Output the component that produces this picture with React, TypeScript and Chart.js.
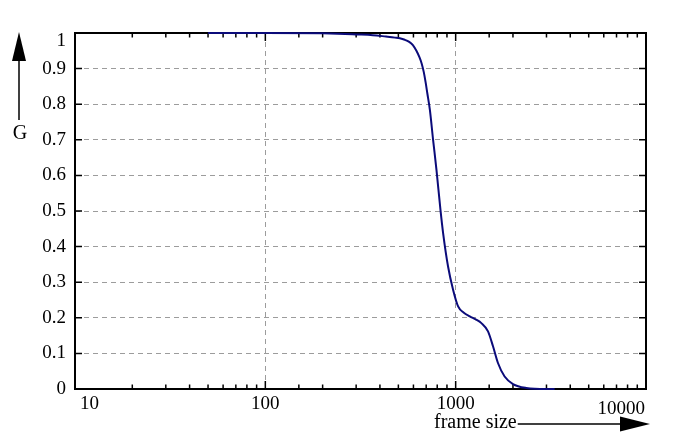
import { useEffect, useRef } from "react";
import { Chart, registerables } from "chart.js";

Chart.register(...registerables);

// frame size (log x) against G
const frameSizes = [
  50, 100, 200, 240, 300, 367, 430, 480, 509, 540, 570, 596, 622, 645, 662,
  680, 695, 710, 732, 761, 793, 832, 859, 912, 969, 1030, 1100, 1186, 1280,
  1365, 1479, 1571, 1668, 1808, 2000, 2350, 2991, 3311,
];
const gValues = [
  1, 1, 0.999, 0.998, 0.996, 0.994, 0.99, 0.987, 0.985, 0.981, 0.975, 0.966,
  0.95, 0.932, 0.915, 0.89, 0.862, 0.83, 0.784, 0.7, 0.615, 0.503, 0.438,
  0.344, 0.279, 0.232, 0.215, 0.204, 0.195, 0.185, 0.162, 0.12, 0.073, 0.035,
  0.014, 0.003, 0, 0,
];
const xTickValues = [10, 100, 1000, 10000];
const xTickLabels = ["10", "100", "1000", "10000"];
const yLabel = "G";
const xLabel = "frame size";

const FONT = "'Liberation Serif', 'DejaVu Serif', serif";
const FONT_SIZE = 19;

const isDecade = (v: number) => {
  const e = Math.round(Math.log10(v));
  return Math.abs(v - Math.pow(10, e)) < 1e-6;
};

const framePlugin = {
  id: "frame",
  beforeDatasetsDraw(chart: any) {
    const { ctx, chartArea: a, scales } = chart;
    const x = scales.x;
    const y = scales.y;
    ctx.save();
    ctx.strokeStyle = "#000";
    ctx.lineWidth = 1.5;
    // inward ticks
    x.ticks.forEach((t: any) => {
      const px = x.getPixelForValue(t.value);
      if (px <= a.left + 1 || px >= a.right - 1) return;
      const len = isDecade(t.value) ? 8 : 4.5;
      ctx.beginPath();
      ctx.moveTo(px, a.bottom);
      ctx.lineTo(px, a.bottom - len);
      ctx.moveTo(px, a.top);
      ctx.lineTo(px, a.top + len);
      ctx.stroke();
    });
    y.ticks.forEach((t: any) => {
      const py = y.getPixelForValue(t.value);
      if (py <= a.top + 1 || py >= a.bottom - 1) return;
      ctx.beginPath();
      ctx.moveTo(a.left, py);
      ctx.lineTo(a.left + 7, py);
      ctx.moveTo(a.right, py);
      ctx.lineTo(a.right - 7, py);
      ctx.stroke();
    });
    ctx.lineWidth = 2;
    ctx.strokeRect(a.left, a.top, a.right - a.left, a.bottom - a.top);
    ctx.restore();
  },
  afterDraw(chart: any) {
    const { ctx, chartArea: a, scales } = chart;
    ctx.save();
    ctx.fillStyle = "#000";
    ctx.strokeStyle = "#000";
    ctx.font = `${FONT_SIZE}px ${FONT}`;

    // top y label sits a little below its value
    ctx.textAlign = "right";
    ctx.textBaseline = "middle";
    ctx.fillText("1", a.left - 9, scales.y.getPixelForValue(1) + 8);

    // x tick labels, first and last kept inside the frame
    ctx.textBaseline = "top";
    xTickValues.forEach((v, i) => {
      const px = scales.x.getPixelForValue(v);
      const last = i === xTickValues.length - 1;
      ctx.textAlign = i === 0 ? "left" : last ? "right" : "center";
      const tx = i === 0 ? px + 5 : last ? px - 1 : px;
      ctx.fillText(xTickLabels[i], tx, a.bottom + (last ? 11 : 6));
    });

    // y arrow and label
    ctx.lineWidth = 1.5;
    const ax = 19;
    ctx.beginPath();
    ctx.moveTo(ax, 120);
    ctx.lineTo(ax, 58);
    ctx.stroke();
    ctx.beginPath();
    ctx.moveTo(ax, a.top - 1);
    ctx.lineTo(ax - 7, 61);
    ctx.lineTo(ax + 7, 61);
    ctx.closePath();
    ctx.fill();
    ctx.font = `20px ${FONT}`;
    ctx.textAlign = "center";
    ctx.textBaseline = "middle";
    ctx.fillText(yLabel, 20, 134);

    // x label and arrow
    ctx.textAlign = "left";
    ctx.textBaseline = "alphabetic";
    ctx.fillText(xLabel, 434, 428);
    const tw = ctx.measureText(xLabel).width;
    const ay = 424;
    ctx.beginPath();
    ctx.moveTo(434 + tw + 1, ay);
    ctx.lineTo(622, ay);
    ctx.stroke();
    ctx.beginPath();
    ctx.moveTo(650, ay);
    ctx.lineTo(620, ay - 7.5);
    ctx.lineTo(620, ay + 7.5);
    ctx.closePath();
    ctx.fill();
    ctx.restore();
  },
};

export default function App() {
  const canvasRef = useRef<HTMLCanvasElement | null>(null);

  useEffect(() => {
    if (!canvasRef.current) return;
    const points = frameSizes.map((f, i) => ({ x: f, y: gValues[i] }));

    const c = new Chart(canvasRef.current, {
      type: "line",
      data: {
        datasets: [
          {
            data: points,
            borderColor: "#0b0b7a",
            borderWidth: 2,
            pointRadius: 0,
            fill: false,
            cubicInterpolationMode: "monotone",
            clip: false,
          } as any,
        ],
      },
      options: {
        animation: false,
        responsive: true,
        maintainAspectRatio: false,
        layout: { padding: { top: 33, right: 51, left: 0, bottom: 0 } },
        plugins: {
          legend: { display: false },
          tooltip: { enabled: false },
        },
        scales: {
          x: {
            type: "logarithmic",
            min: 10,
            max: 10000,
            afterFit: (s: any) => {
              s.height = 56;
            },
            border: { display: false, dash: [5, 4] },
            grid: {
              drawTicks: false,
              lineWidth: 1,
              color: (ctx: any) => {
                const v = ctx.tick?.value;
                return v && isDecade(v) && v > 10 && v < 10000
                  ? "#9c9c9c"
                  : "rgba(0,0,0,0)";
              },
            },
            ticks: {
              display: false,
              autoSkip: false,
            },
          },
          y: {
            type: "linear",
            min: 0,
            max: 1,
            afterFit: (s: any) => {
              s.width = 75;
            },
            border: { display: false, dash: [5, 4] },
            grid: {
              drawTicks: false,
              lineWidth: 1,
              color: (ctx: any) => {
                const v = ctx.tick?.value;
                return v > 0.01 && v < 0.99 ? "#9c9c9c" : "rgba(0,0,0,0)";
              },
            },
            ticks: {
              stepSize: 0.1,
              padding: 9,
              color: "#000",
              font: { family: FONT, size: FONT_SIZE },
              callback: (v: any) => {
                const n = Number(Number(v).toFixed(1));
                return n === 1 ? "" : String(n);
              },
            },
          },
        },
      } as any,
      plugins: [framePlugin],
    });

    return () => c.destroy();
  }, []);

  return (
    <div
      style={{
        position: "absolute",
        left: 0,
        top: 0,
        width: 697,
        height: 445,
        background: "#fff",
      }}
    >
      <canvas ref={canvasRef}></canvas>
    </div>
  );
}
